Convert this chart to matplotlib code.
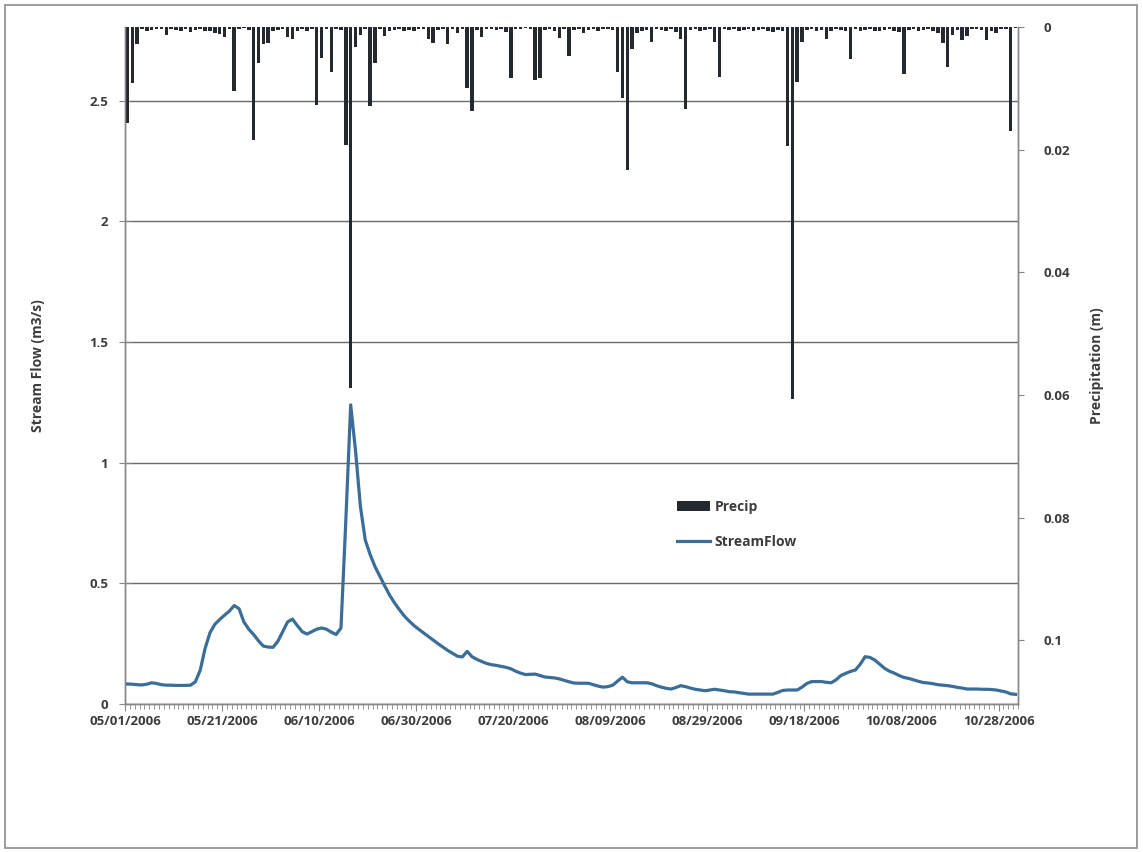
import matplotlib
matplotlib.use("Agg")
import matplotlib.pyplot as plt
import matplotlib.dates as mdates
import numpy as np
import pandas as pd
from matplotlib.patches import Rectangle

START_DATE = "2006-05-01"

# daily stream flow (m3/s), 05/01/2006 .. 10/31/2006
streamflow = [
    0.083, 0.082, 0.080, 0.079, 0.082, 0.088, 0.085, 0.080, 0.078, 0.078,
    0.077, 0.077, 0.077, 0.078, 0.092, 0.140, 0.230, 0.295, 0.330, 0.350,
    0.368, 0.385, 0.408, 0.395, 0.340, 0.310, 0.288, 0.262, 0.240, 0.236,
    0.235, 0.260, 0.300, 0.340, 0.352, 0.325, 0.300, 0.290, 0.300, 0.310,
    0.315, 0.310, 0.298, 0.288, 0.315, 0.760, 1.240, 1.050, 0.820, 0.680,
    0.620, 0.570, 0.530, 0.490, 0.452, 0.420, 0.392, 0.366, 0.345, 0.326,
    0.310, 0.295, 0.280, 0.265, 0.250, 0.236, 0.222, 0.210, 0.198, 0.195,
    0.218, 0.196, 0.185, 0.176, 0.168, 0.163, 0.160, 0.156, 0.152, 0.146,
    0.136, 0.128, 0.122, 0.123, 0.124, 0.118, 0.112, 0.110, 0.108, 0.104,
    0.098, 0.092, 0.087, 0.086, 0.086, 0.086, 0.080, 0.074, 0.070, 0.072,
    0.078, 0.095, 0.111, 0.092, 0.088, 0.088, 0.088, 0.088, 0.084, 0.076,
    0.070, 0.065, 0.062, 0.068, 0.076, 0.072, 0.066, 0.061, 0.058, 0.055,
    0.058, 0.061, 0.058, 0.055, 0.051, 0.050, 0.047, 0.044, 0.041, 0.041,
    0.041, 0.041, 0.041, 0.041, 0.048, 0.056, 0.058, 0.058, 0.058, 0.070,
    0.085, 0.093, 0.093, 0.093, 0.090, 0.088, 0.100, 0.118, 0.127, 0.135,
    0.141, 0.165, 0.196, 0.193, 0.182, 0.165, 0.148, 0.136, 0.128, 0.118,
    0.110, 0.106, 0.100, 0.094, 0.089, 0.087, 0.084, 0.080, 0.078, 0.076,
    0.073, 0.069, 0.066, 0.062, 0.062, 0.062, 0.061, 0.061, 0.060, 0.058,
    0.054, 0.050, 0.042, 0.040,
]

# daily precipitation (m)
precip = [
    0.0157, 0.0091, 0.0028, 0.0004, 0.0006, 0.0005, 0.0004, 0.0003, 0.0013, 0.0004,
    0.0005, 0.0006, 0.0003, 0.0008, 0.0005, 0.0004, 0.0006, 0.0007, 0.0009, 0.0011,
    0.0016, 0.0004, 0.0104, 0.0003, 0.0002, 0.0005, 0.0184, 0.0059, 0.0028, 0.0026,
    0.0006, 0.0005, 0.0004, 0.0016, 0.0020, 0.0007, 0.0004, 0.0006, 0.0003, 0.0127,
    0.0050, 0.0004, 0.0073, 0.0003, 0.0005, 0.0193, 0.0589, 0.0032, 0.0013, 0.0004,
    0.0129, 0.0058, 0.0003, 0.0015, 0.0006, 0.0005, 0.0004, 0.0006, 0.0005, 0.0007,
    0.0004, 0.0003, 0.0020, 0.0026, 0.0005, 0.0004, 0.0028, 0.0003, 0.0010, 0.0004,
    0.0100, 0.0137, 0.0005, 0.0016, 0.0004, 0.0003, 0.0005, 0.0004, 0.0008, 0.0083,
    0.0003, 0.0004, 0.0002, 0.0004, 0.0087, 0.0083, 0.0005, 0.0004, 0.0006, 0.0018,
    0.0004, 0.0047, 0.0005, 0.0004, 0.0010, 0.0005, 0.0004, 0.0006, 0.0004, 0.0003,
    0.0005, 0.0074, 0.0115, 0.0233, 0.0036, 0.0010, 0.0006, 0.0005, 0.0024, 0.0004,
    0.0005, 0.0006, 0.0004, 0.0008, 0.0020, 0.0134, 0.0005, 0.0004, 0.0006, 0.0005,
    0.0004, 0.0024, 0.0081, 0.0003, 0.0005, 0.0004, 0.0006, 0.0005, 0.0004, 0.0007,
    0.0005, 0.0004, 0.0006, 0.0008, 0.0005, 0.0007, 0.0194, 0.0607, 0.0090, 0.0024,
    0.0005, 0.0004, 0.0006, 0.0005, 0.0020, 0.0007, 0.0004, 0.0005, 0.0006, 0.0052,
    0.0004, 0.0006, 0.0005, 0.0004, 0.0006, 0.0007, 0.0005, 0.0004, 0.0006, 0.0008,
    0.0076, 0.0005, 0.0004, 0.0006, 0.0005, 0.0004, 0.0007, 0.0009, 0.0026, 0.0065,
    0.0013, 0.0005, 0.0021, 0.0015, 0.0004, 0.0003, 0.0005, 0.0021, 0.0006, 0.0010,
    0.0004, 0.0003, 0.0169, 0.0002,
]

flow_ticks = [0, 0.5, 1, 1.5, 2, 2.5]
flow_tick_labels = ["0", "0.5", "1", "1.5", "2", "2.5"]
precip_ticks = [0, 0.02, 0.04, 0.06, 0.08, 0.1]
precip_tick_labels = ["0", "0.02", "0.04", "0.06", "0.08", "0.1"]
date_tick_labels = [
    "05/01/2006", "05/21/2006", "06/10/2006", "06/30/2006", "07/20/2006",
    "08/09/2006", "08/29/2006", "09/18/2006", "10/08/2006", "10/28/2006",
]

plt.rcParams["font.family"] = ["Open Sans", "DejaVu Sans"]
plt.rcParams["font.weight"] = "bold"

TEXT = "#3c3c3c"
AXIS = "#868686"

days = pd.date_range(START_DATE, periods=len(streamflow), freq="D")
day_num = mdates.date2num(days)
x = day_num + 0.5

fig = plt.figure(figsize=(11.43, 8.52), dpi=100)
ax = fig.add_axes([125 / 1143, 1 - 704 / 852, 893 / 1143, 677 / 852])

line, = ax.plot(x, streamflow, color="#3a6d97", lw=2.3, label="StreamFlow", zorder=3)
ax.set_ylim(0, 2.806)
ax.set_xlim(day_num[0], day_num[-1] + 1)
ax.set_yticks(flow_ticks)
ax.set_yticklabels(flow_tick_labels)
ax.set_xticks(day_num[::20])
ax.set_xticklabels(date_tick_labels)
ax.set_xticks(np.append(day_num, day_num[-1] + 1), minor=True)
ax.yaxis.grid(True, color="#6a6a6a", lw=1.0)
ax.set_axisbelow(True)

ax.tick_params(axis="y", direction="inout", length=8, pad=8, colors=AXIS,
               labelcolor=TEXT, labelsize=9.5)
ax.tick_params(axis="x", which="major", direction="out", length=5, pad=3,
               colors=AXIS, labelcolor=TEXT, labelsize=9.5)
ax.tick_params(axis="x", which="minor", direction="out", length=3.5, colors=AXIS)

ax2 = ax.twinx()
bars = ax2.bar(x, precip, width=0.72, color="#24282f", label="Precip", zorder=2)
ax2.set_ylim(0.1104, 0)
ax2.set_yticks(precip_ticks)
ax2.set_yticklabels(precip_tick_labels)
ax2.tick_params(axis="y", direction="out", length=4, pad=14, colors=AXIS,
                labelcolor=TEXT, labelsize=9.5)

for a in (ax, ax2):
    a.spines["top"].set_visible(False)
    for s in ("left", "right", "bottom"):
        a.spines[s].set_color(AXIS)
        a.spines[s].set_linewidth(1.0)

ax.set_ylabel("Stream Flow (m3/s)", fontsize=10, fontweight="bold", color=TEXT)
ax.yaxis.set_label_coords(-0.0896, 0.5)
ax2.set_ylabel("Precipitation (m)", fontsize=10, fontweight="bold", color=TEXT,
               rotation=90)
ax2.yaxis.set_label_coords(1.0806, 0.5)

fig.legend([bars, line], ["Precip", "StreamFlow"], loc="upper left",
           bbox_to_anchor=(677 / 1143, 1 - 500 / 852), frameon=False,
           fontsize=10, labelspacing=1.5, handlelength=2.4, handletextpad=0.3,
           borderpad=0, borderaxespad=0, labelcolor=TEXT)

fig.add_artist(Rectangle((5 / 1143, 4 / 852), 1132 / 1143, 843 / 852,
                         transform=fig.transFigure, fill=False,
                         edgecolor="#8c8c8c", lw=1.2))

fig.savefig("out.png", dpi=100)
